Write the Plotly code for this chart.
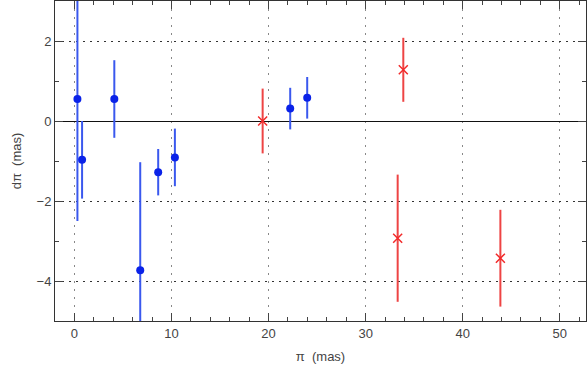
import plotly.graph_objects as go

# blue: filled circles
blue_x = [0.31, 0.79, 4.11, 6.78, 8.63, 10.35, 22.23, 23.98]
blue_y = [0.55, -0.97, 0.55, -3.73, -1.28, -0.91, 0.31, 0.58]
blue_err = [3.05, 0.97, 0.97, 2.70, 0.58, 0.72, 0.52, 0.52]

# red: crosses
red_x = [19.39, 33.88, 33.30, 43.88]
red_y = [0.00, 1.28, -2.93, -3.43]
red_err = [0.81, 0.80, 1.59, 1.21]

fig = go.Figure()
fig.add_trace(go.Scatter(
    x=blue_x, y=blue_y, mode="markers",
    marker=dict(color="#0a22e8", size=8, symbol="circle"),
    error_y=dict(type="data", array=blue_err, color="#3a58ee", thickness=2, width=0),
    showlegend=False,
))
fig.add_trace(go.Scatter(
    x=red_x, y=red_y, mode="markers",
    marker=dict(color="#f22a2a", size=9, symbol="x-thin", line=dict(color="#f22a2a", width=1.5)),
    error_y=dict(type="data", array=red_err, color="#ee4444", thickness=2, width=0),
    showlegend=False,
))

axis_font = dict(family="Liberation Sans, Arial, sans-serif", size=13, color="#444444")
fig.update_xaxes(
    range=[-2, 52.7], dtick=10, tick0=0,
    ticks="inside", ticklen=8, tickcolor="#444444",
    minor=dict(ticks="inside", dtick=2, ticklen=4, tickcolor="#444444"),
    showline=True, linecolor="#333333", linewidth=1, mirror="ticks",
    showgrid=True, gridcolor="#888888", griddash="2px,6px", gridwidth=1,
    zeroline=False, tickfont=axis_font, automargin=False,
    title=dict(text="π  (mas)", font=axis_font, standoff=12),
)
fig.update_yaxes(
    range=[-5, 3], dtick=2, tick0=0,
    ticks="inside", ticklen=8, tickcolor="#444444",
    minor=dict(ticks="inside", dtick=1, ticklen=4, tickcolor="#444444"),
    showline=True, linecolor="#333333", linewidth=1, mirror="ticks",
    showgrid=True, gridcolor="#333333", griddash="2px,5px", gridwidth=1,
    zeroline=True, zerolinecolor="#111111", zerolinewidth=1,
    tickfont=axis_font, automargin=False,
    title=dict(text="dπ  (mas)", font=axis_font, standoff=12),
)
fig.update_layout(
    width=587, height=372,
    margin=dict(l=55, r=1, t=1, b=51),
    paper_bgcolor="white", plot_bgcolor="white",
)
fig.write_html("out.html", config={"displayModeBar": False},
               post_script="document.body.style.margin='0';")
